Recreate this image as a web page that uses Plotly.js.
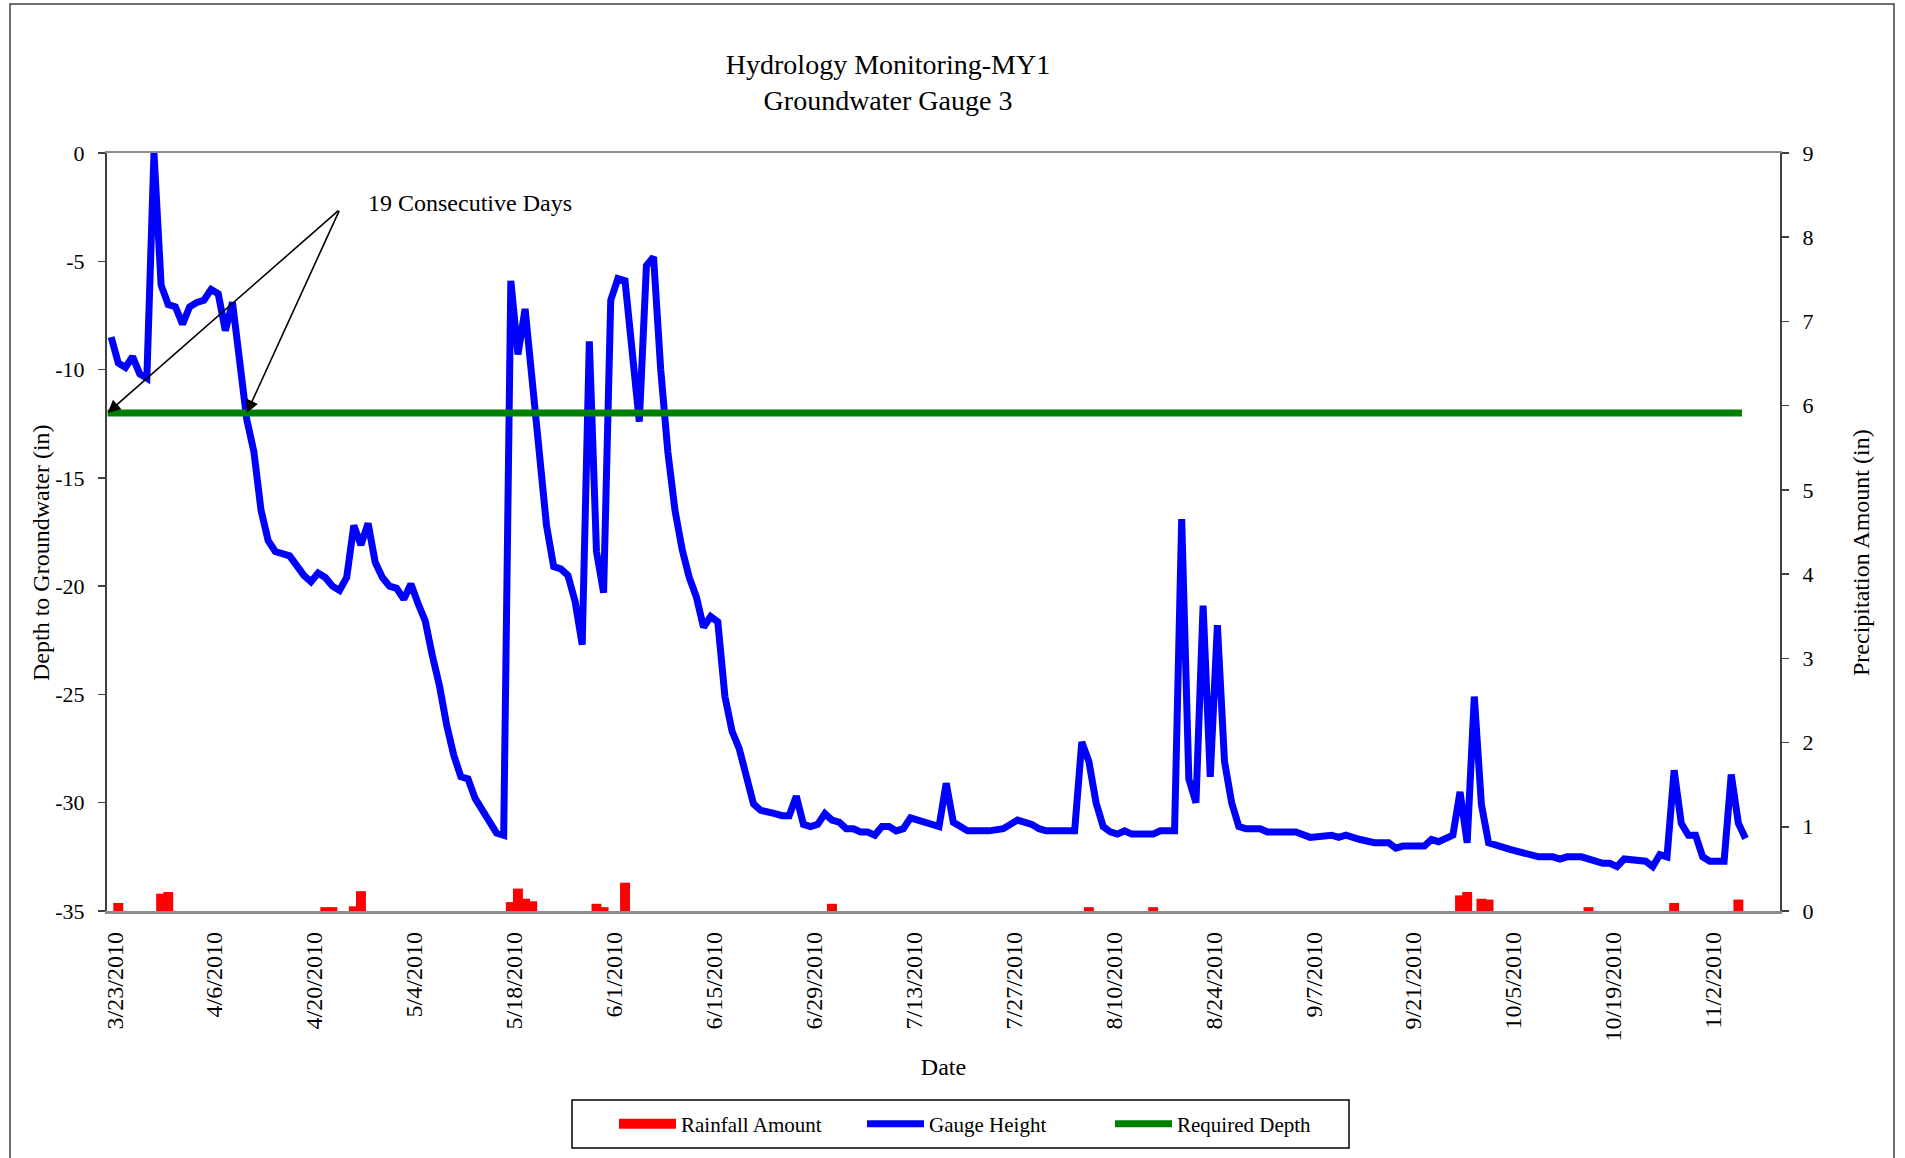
<!DOCTYPE html>
<html>
<head>
<meta charset="utf-8">
<script src="https://cdn.plot.ly/plotly-3.0.1.min.js"></script>
<style>
  html, body { margin: 0; padding: 0; background: #ffffff; }
  #chart { width: 1905px; height: 1158px; }
</style>
</head>
<body>
<div id="chart"></div>
<script>
// ---------- data ----------
const tickLabels = ['3/23/2010','4/6/2010','4/20/2010','5/4/2010','5/18/2010','6/1/2010','6/15/2010',
  '6/29/2010','7/13/2010','7/27/2010','8/10/2010','8/24/2010','9/7/2010','9/21/2010','10/5/2010',
  '10/19/2010','11/2/2010'];
const depthTicks = [0, -5, -10, -15, -20, -25, -30, -35];
const precipTicks = [0, 1, 2, 3, 4, 5, 6, 7, 8, 9];

const gaugeDates = [
  '2010-03-22','2010-03-23','2010-03-24','2010-03-25','2010-03-26','2010-03-27','2010-03-28','2010-03-29',
  '2010-03-30','2010-03-31','2010-04-01','2010-04-02','2010-04-03','2010-04-04','2010-04-05','2010-04-06',
  '2010-04-07','2010-04-08','2010-04-10','2010-04-11','2010-04-12','2010-04-13','2010-04-14','2010-04-16',
  '2010-04-18','2010-04-19','2010-04-20','2010-04-21','2010-04-22','2010-04-23','2010-04-24','2010-04-25',
  '2010-04-26','2010-04-27','2010-04-28','2010-04-29','2010-04-30','2010-05-01','2010-05-02','2010-05-03',
  '2010-05-04','2010-05-05','2010-05-06','2010-05-07','2010-05-08','2010-05-09','2010-05-10','2010-05-11',
  '2010-05-12','2010-05-14','2010-05-15','2010-05-16','2010-05-17','2010-05-18','2010-05-19','2010-05-22',
  '2010-05-23','2010-05-24','2010-05-25','2010-05-26','2010-05-27','2010-05-28','2010-05-29','2010-05-30',
  '2010-05-31','2010-06-01','2010-06-02','2010-06-04','2010-06-05','2010-06-06','2010-06-07','2010-06-08',
  '2010-06-09','2010-06-10','2010-06-11','2010-06-12','2010-06-13','2010-06-14','2010-06-15','2010-06-16',
  '2010-06-17','2010-06-18','2010-06-19','2010-06-20','2010-06-21','2010-06-22','2010-06-23','2010-06-24',
  '2010-06-25','2010-06-26','2010-06-27','2010-06-28','2010-06-29','2010-06-30','2010-07-01','2010-07-02',
  '2010-07-03','2010-07-04','2010-07-05','2010-07-06','2010-07-07','2010-07-08','2010-07-09','2010-07-10',
  '2010-07-11','2010-07-12','2010-07-16','2010-07-17','2010-07-18','2010-07-19','2010-07-20','2010-07-23',
  '2010-07-25','2010-07-26','2010-07-27','2010-07-29','2010-07-30','2010-07-31','2010-08-04','2010-08-05',
  '2010-08-06','2010-08-07','2010-08-08','2010-08-09','2010-08-10','2010-08-11','2010-08-12','2010-08-15',
  '2010-08-16','2010-08-18','2010-08-19','2010-08-20','2010-08-21','2010-08-22','2010-08-23','2010-08-24',
  '2010-08-25','2010-08-26','2010-08-27','2010-08-28','2010-08-30','2010-08-31','2010-09-04','2010-09-06',
  '2010-09-09','2010-09-10','2010-09-11','2010-09-13','2010-09-15','2010-09-17','2010-09-18','2010-09-19',
  '2010-09-22','2010-09-23','2010-09-24','2010-09-26','2010-09-27','2010-09-28','2010-09-29','2010-09-30',
  '2010-10-01','2010-10-04','2010-10-06','2010-10-07','2010-10-08','2010-10-10','2010-10-11','2010-10-12',
  '2010-10-14','2010-10-16','2010-10-17','2010-10-18','2010-10-19','2010-10-20','2010-10-22','2010-10-23',
  '2010-10-24','2010-10-25','2010-10-26','2010-10-27','2010-10-28','2010-10-29','2010-10-30','2010-10-31',
  '2010-11-01','2010-11-03','2010-11-04','2010-11-05','2010-11-06'
];
const gaugeDepth = [
  -8.5,-9.7,-9.9,-9.4,-10.2,-10.4,0.0,-6.1,
  -7.0,-7.1,-7.9,-7.1,-6.9,-6.8,-6.3,-6.5,
  -8.2,-6.9,-12.3,-13.8,-16.5,-17.9,-18.4,-18.6,
  -19.5,-19.8,-19.4,-19.6,-20.0,-20.2,-19.6,-17.2,
  -18.1,-17.1,-18.9,-19.6,-20.0,-20.1,-20.6,-19.9,
  -20.8,-21.6,-23.2,-24.6,-26.4,-27.8,-28.8,-28.9,
  -29.8,-30.9,-31.4,-31.5,-5.9,-9.3,-7.2,-17.2,
  -19.1,-19.2,-19.5,-20.7,-22.7,-8.7,-18.4,-20.3,
  -6.8,-5.8,-5.9,-12.4,-5.2,-4.8,-10.0,-13.8,
  -16.5,-18.3,-19.6,-20.5,-21.9,-21.4,-21.65,-25.1,
  -26.7,-27.5,-28.7,-30.05,-30.35,-30.4,-30.5,-30.6,
  -30.6,-29.7,-31.0,-31.1,-31.0,-30.5,-30.8,-30.9,
  -31.2,-31.2,-31.35,-31.35,-31.5,-31.1,-31.1,-31.3,
  -31.2,-30.7,-31.1,-29.1,-30.9,-31.1,-31.3,-31.3,
  -31.2,-31.0,-30.8,-31.0,-31.2,-31.3,-31.3,-27.2,
  -28.1,-30.0,-31.1,-31.35,-31.45,-31.3,-31.45,-31.45,
  -31.3,-31.3,-16.9,-28.9,-30.0,-20.9,-28.8,-21.8,
  -28.1,-30.0,-31.1,-31.2,-31.2,-31.35,-31.35,-31.6,
  -31.5,-31.6,-31.5,-31.7,-31.85,-31.85,-32.1,-32.0,
  -32.0,-31.7,-31.8,-31.5,-29.5,-31.85,-25.1,-30.1,
  -31.85,-32.15,-32.35,-32.4,-32.5,-32.5,-32.6,-32.5,
  -32.5,-32.7,-32.8,-32.8,-32.95,-32.6,-32.7,-32.7,
  -32.95,-32.4,-32.5,-28.5,-30.95,-31.5,-31.5,-32.5,
  -32.7,-32.7,-28.7,-30.95,-31.65
];

const rainDates = ['2010-03-23','2010-03-29','2010-03-30','2010-04-21','2010-04-22','2010-04-25','2010-04-26',
  '2010-05-17','2010-05-18','2010-05-19','2010-05-20','2010-05-29','2010-05-30','2010-06-02','2010-07-01',
  '2010-08-06','2010-08-15','2010-09-27','2010-09-28','2010-09-30','2010-10-01','2010-10-15','2010-10-27',
  '2010-11-05'];
const rainAmount = [0.06,0.17,0.19,0.01,0.01,0.02,0.20,
  0.07,0.23,0.11,0.08,0.05,0.01,0.30,0.05,
  0.01,0.01,0.15,0.19,0.11,0.10,0.01,0.06,
  0.10];

const requiredDates = ['2010-03-22','2010-11-06'];
const requiredDepth = [-12, -12];
const consecutiveDays = 19;

// ---------- helpers ----------
function toISO(mdy){ const p = mdy.split('/'); return p[2] + '-' + p[0].padStart(2,'0') + '-' + p[1].padStart(2,'0'); }
function addDays(iso, n){ const d = new Date(iso + 'T00:00:00Z'); d.setUTCDate(d.getUTCDate() + n); return d.toISOString().slice(0,10); }
// daily readings are drawn in the middle of their day slot, as the original date axis does
const midDay = iso => iso + ' 12:00';

const FONT = 'Liberation Serif, Times New Roman, serif';
const tickVals = tickLabels.map(toISO);

const traces = [
  // legend key for the rainfall columns (wide red swatch as in the original)
  { type:'scatter', mode:'lines', name:'Rainfall Amount', x:[null], y:[null], yaxis:'y2',
    line:{ color:'#ff0000', width:14 }, hoverinfo:'skip' },
  { type:'bar', name:'Rainfall Amount', showlegend:false, x: rainDates.map(midDay), y: rainAmount, yaxis:'y2',
    width: 0.55*86400000,
    marker:{ color:'#ff0000', line:{ color:'#ff0000', width:6 } } },
  { type:'scatter', mode:'lines', name:'Gauge Height', x: gaugeDates.map(midDay), y: gaugeDepth,
    line:{ color:'#0000ff', width:7 } },
  { type:'scatter', mode:'lines', name:'Required Depth', x: requiredDates, y: requiredDepth,
    line:{ color:'#008000', width:7 } }
];

const arrowStart = requiredDates[0];
const arrowEnd = midDay(addDays(arrowStart, consecutiveDays));
const tailX = '2010-04-23 13:00', tailY = -2.6;

// paper-coordinate helpers for the page frame (plot area: x 107..1780, y 153..911 px)
const PX = px => (px - 107) / 1673;
const PY = py => (911 - py) / 758;

const layout = {
  width:1905, height:1158,
  paper_bgcolor:'#ffffff', plot_bgcolor:'#ffffff',
  margin:{ l:107, r:125, t:153, b:247 },
  font:{ family: FONT, color:'#000000' },
  showlegend:true,
  title:{ text:'Hydrology Monitoring-MY1<br>Groundwater Gauge 3',
    font:{ family: FONT, size:28, color:'#000' },
    x: 888/1905, xanchor:'center', xref:'container',
    y: 1 - 74/1158, yanchor:'middle', yref:'container' },
  xaxis:{ type:'date', range:['2010-03-21 22:00','2010-11-11 08:00'],
    tickvals: tickVals, ticktext: tickLabels, tickangle:-90, ticklabelstandoff:9,
    tickfont:{ family: FONT, size:24, color:'#000' },
    ticks:'', showgrid:false, zeroline:false,
    showline:true, linecolor:'#8c8c8c', linewidth:2.5, mirror:true,
    title:{ text:'Date', font:{ family: FONT, size:24, color:'#000' }, standoff:18 } },
  yaxis:{ range:[-35,0], tickvals: depthTicks, ticktext: depthTicks.map(String), ticklabelstandoff:9,
    tickfont:{ family: FONT, size:22, color:'#000' },
    ticks:'outside', ticklen:7, tickwidth:1.5, tickcolor:'#404040',
    showgrid:false, zeroline:false, showline:true, linecolor:'#404040', linewidth:2 },
  yaxis2:{ overlaying:'y', side:'right', range:[0,9], tickvals: precipTicks, ticktext: precipTicks.map(String),
    ticklabelstandoff:9,
    tickfont:{ family: FONT, size:22, color:'#000' },
    ticks:'outside', ticklen:7, tickwidth:1.5, tickcolor:'#404040',
    showgrid:false, zeroline:false, showline:true, linecolor:'#404040', linewidth:2 },
  legend:{ orientation:'h', xref:'container', yref:'container',
    x: 614/1905, xanchor:'left', y: 1 - 1124/1158, yanchor:'middle',
    borderwidth:0, bgcolor:'rgba(0,0,0,0)',
    font:{ family: FONT, size:21, color:'#000' },
    itemwidth:57, entrywidth:176, traceorder:'normal' },
  annotations:[
    { x: arrowStart, y: requiredDepth[0], xref:'x', yref:'y', ax: tailX, ay: tailY, axref:'x', ayref:'y',
      text:'', showarrow:true, arrowhead:2, arrowsize:1.6, arrowwidth:1.6, arrowcolor:'#000' },
    { x: arrowEnd, y: requiredDepth[0], xref:'x', yref:'y', ax: tailX, ay: tailY, axref:'x', ayref:'y',
      text:'', showarrow:true, arrowhead:2, arrowsize:1.6, arrowwidth:1.6, arrowcolor:'#000' },
    { x: PX(366), y: PY(203), xref:'paper', yref:'paper', xanchor:'left', yanchor:'middle',
      text:'19 Consecutive Days', showarrow:false, font:{ family: FONT, size:24, color:'#000' } },
    { x: PX(41), y: PY(553), xref:'paper', yref:'paper', xanchor:'center', yanchor:'middle', textangle:-90,
      text:'Depth to Groundwater (in)', showarrow:false, font:{ family: FONT, size:24, color:'#000' } },
    { x: PX(1861), y: PY(553), xref:'paper', yref:'paper', xanchor:'center', yanchor:'middle', textangle:-90,
      text:'Precipitation Amount (in)', showarrow:false, font:{ family: FONT, size:24, color:'#000' } }
  ],
  shapes:[
    { type:'rect', xref:'paper', yref:'paper', x0:PX(10), x1:PX(1894), y0:PY(1175), y1:PY(4),
      line:{ color:'#404040', width:1.5 }, fillcolor:'rgba(0,0,0,0)', layer:'below' },
    { type:'rect', xref:'paper', yref:'paper', x0:PX(572), x1:PX(1349), y0:PY(1148), y1:PY(1100),
      line:{ color:'#000000', width:1.5 }, fillcolor:'rgba(0,0,0,0)', layer:'below' }
  ],
  bargap:0
};

Plotly.newPlot('chart', traces, layout, { displayModeBar:false, staticPlot:true });
</script>
</body>
</html>
